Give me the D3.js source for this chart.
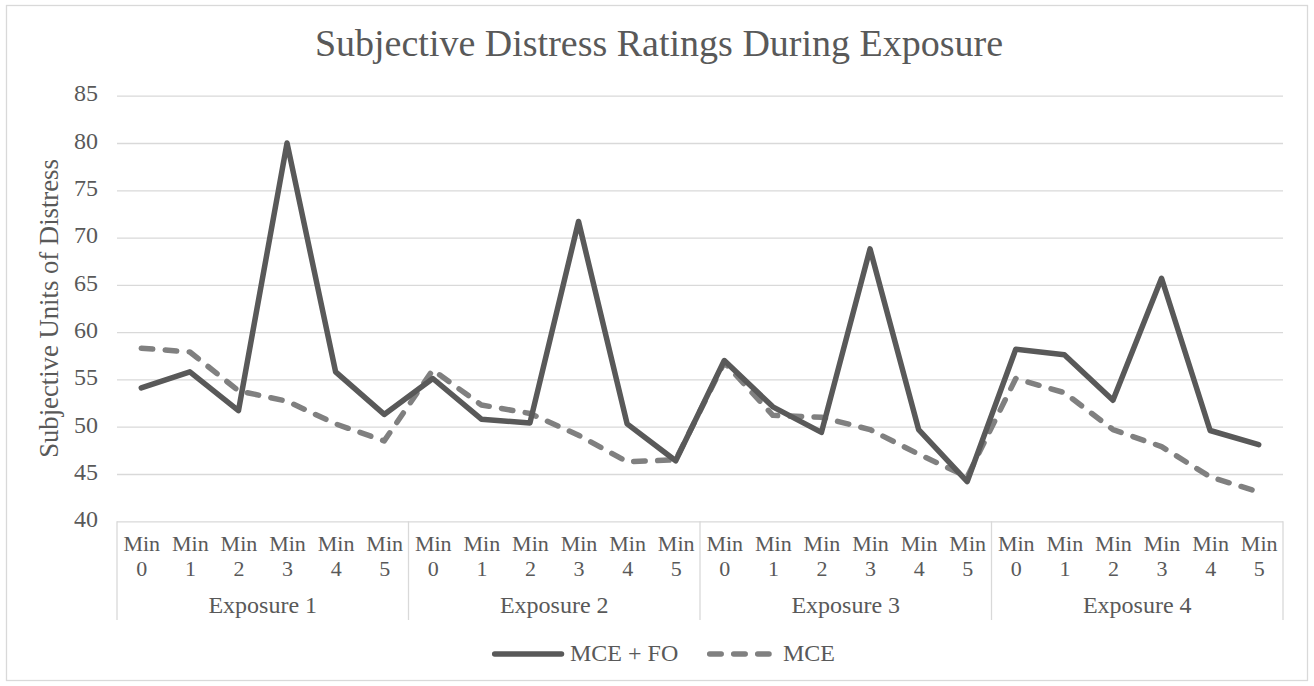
<!doctype html>
<html>
<head>
<meta charset="UTF-8">
<title>Subjective Distress Ratings During Exposure</title>
<script src="https://d3js.org/d3.v7.min.js"></script>
<style>
  body { margin: 0; background: #fff; }
  svg text { font-family: "Liberation Serif", "Times New Roman", Times, "DejaVu Serif", serif !important; fill: #595959; }
</style>
</head>
<body>
<script>
	// data
	var exposures = ["Exposure 1", "Exposure 2", "Exposure 3", "Exposure 4"];
	var minutes = ["Min 0", "Min 1", "Min 2", "Min 3", "Min 4", "Min 5"];
	var mceFo = [54.1, 55.8, 51.7, 80.0, 55.8, 51.3,
	             55.1, 50.8, 50.4, 71.7, 50.3, 46.4,
	             57.0, 52.1, 49.4, 68.8, 49.7, 44.2,
	             58.2, 57.6, 52.8, 65.7, 49.6, 48.1];
	var mce = [58.3, 57.9, 53.8, 52.7, 50.3, 48.5,
	           56.0, 52.3, 51.4, 49.1, 46.3, 46.5,
	           56.8, 51.2, 51.0, 49.7, 47.1, 44.7,
	           55.1, 53.6, 49.7, 47.9, 44.7, 43.1];
	var yTicks = [40, 45, 50, 55, 60, 65, 70, 75, 80, 85];

	var serif = "'Liberation Serif', 'Times New Roman', Times, 'DejaVu Serif', serif";

	// set the dimensions and margins
	var W = 1314, H = 686;
	var margin = {top: 95.7, right: 31, bottom: 164.7, left: 117};
	var width = W - margin.left - margin.right,
		height = H - margin.top - margin.bottom;

	var grid = "#d9d9d9", textCol = "#595959";

	// category keys, one per point
	var keys = [];
	exposures.forEach(function(e, i) {
		minutes.forEach(function(m, j) { keys.push(i + "|" + j); });
	});

	var x = d3.scalePoint().domain(keys).range([0, width]).padding(0.5);
	var step = x.step();
	var y = d3.scaleLinear().domain([40, 85]).range([height, 0]);

	var svg = d3.select("body").append("svg")
		.attr("width", W)
		.attr("height", H)
		.attr("font-family", serif);

	// chart border
	svg.append("rect")
		.attr("x", 6.5).attr("y", 5.5)
		.attr("width", W - 13).attr("height", H - 11)
		.attr("fill", "#fff")
		.attr("stroke", grid)
		.attr("stroke-width", 1.3);

	// title
	svg.append("text")
		.attr("x", 659)
		.attr("y", 56)
		.attr("text-anchor", "middle")
		.style("font-size", "38px")
		.text("Subjective Distress Ratings During Exposure");

	var g = svg.append("g")
		.attr("transform", "translate(" + margin.left + "," + margin.top + ")");

	// gridlines + y ticks
	var yAxis = g.append("g")
		.call(d3.axisLeft(y).tickValues(yTicks).tickSize(-width).tickPadding(19))
		.attr("font-family", serif);
	yAxis.select(".domain").remove();
	yAxis.selectAll(".tick line").attr("stroke", grid).attr("stroke-width", 1.3);
	yAxis.selectAll(".tick text")
		.attr("fill", textCol)
		.attr("dy", "0.22em")
		.style("font-size", "24px");

	// category box lines (left, separators, right)
	var boxBottom = 620 - margin.top;
	var seps = [0];
	exposures.forEach(function(e, i) {
		seps.push(x(i + "|5") + step / 2);
	});
	g.selectAll(".sep").data(seps).enter().append("line")
		.attr("class", "sep")
		.attr("x1", function(d) { return d; })
		.attr("x2", function(d) { return d; })
		.attr("y1", height)
		.attr("y2", boxBottom)
		.attr("stroke", grid)
		.attr("stroke-width", 1.3);

	// minute labels, two lines each
	var xAxis = g.append("g")
		.attr("transform", "translate(0," + height + ")")
		.call(d3.axisBottom(x).tickSize(0).tickFormat(""))
		.attr("font-family", serif);
	xAxis.select(".domain").remove();
	xAxis.selectAll(".tick text").remove();
	xAxis.selectAll(".tick").each(function(d) {
		var m = minutes[+d.split("|")[1]].split(" ");
		var t = d3.select(this);
		t.append("text")
			.attr("text-anchor", "middle")
			.attr("fill", textCol)
			.attr("y", 29.5)
			.style("font-size", "22px")
			.text(m[0]);
		t.append("text")
			.attr("text-anchor", "middle")
			.attr("fill", textCol)
			.attr("y", 54.5)
			.style("font-size", "22px")
			.text(m[1]);
	});

	// exposure labels
	g.selectAll(".grp").data(exposures).enter().append("text")
		.attr("class", "grp")
		.attr("x", function(d, i) { return (x(i + "|0") + x(i + "|5")) / 2; })
		.attr("y", height + 91.7)
		.attr("text-anchor", "middle")
		.style("font-size", "24px")
		.text(function(d) { return d; });

	// y axis title
	svg.append("text")
		.attr("transform", "translate(58," + (margin.top + height / 2) + ") rotate(-90)")
		.attr("text-anchor", "middle")
		.style("font-size", "26.7px")
		.text("Subjective Units of Distress");

	// lines
	var line = d3.line()
		.x(function(d, i) { return x(keys[i]); })
		.y(function(d) { return y(d); });

	g.append("path")
		.attr("d", line(mce))
		.attr("fill", "none")
		.attr("stroke", "#808080")
		.attr("stroke-width", 5.5)
		.attr("stroke-linecap", "round")
		.attr("stroke-linejoin", "round")
		.attr("stroke-dasharray", "11.5,12.5");

	g.append("path")
		.attr("d", line(mceFo))
		.attr("fill", "none")
		.attr("stroke", "#595959")
		.attr("stroke-width", 5.5)
		.attr("stroke-linecap", "round")
		.attr("stroke-linejoin", "round");

	// legend
	var legend = [
		{name: "MCE + FO", x1: 494.7, x2: 561.5, tx: 570, color: "#595959", dash: null},
		{name: "MCE", x1: 709.7, x2: 769, tx: 783, color: "#808080", dash: "11.5,12.5"}
	];
	var lg = svg.append("g");
	legend.forEach(function(d) {
		lg.append("line")
			.attr("x1", d.x1).attr("x2", d.x2)
			.attr("y1", 654).attr("y2", 654)
			.attr("stroke", d.color)
			.attr("stroke-width", 5.5)
			.attr("stroke-linecap", "round")
			.attr("stroke-dasharray", d.dash);
		lg.append("text")
			.attr("x", d.tx)
			.attr("y", 661)
			.style("font-size", "24px")
			.text(d.name);
	});
</script>
</body>
</html>
